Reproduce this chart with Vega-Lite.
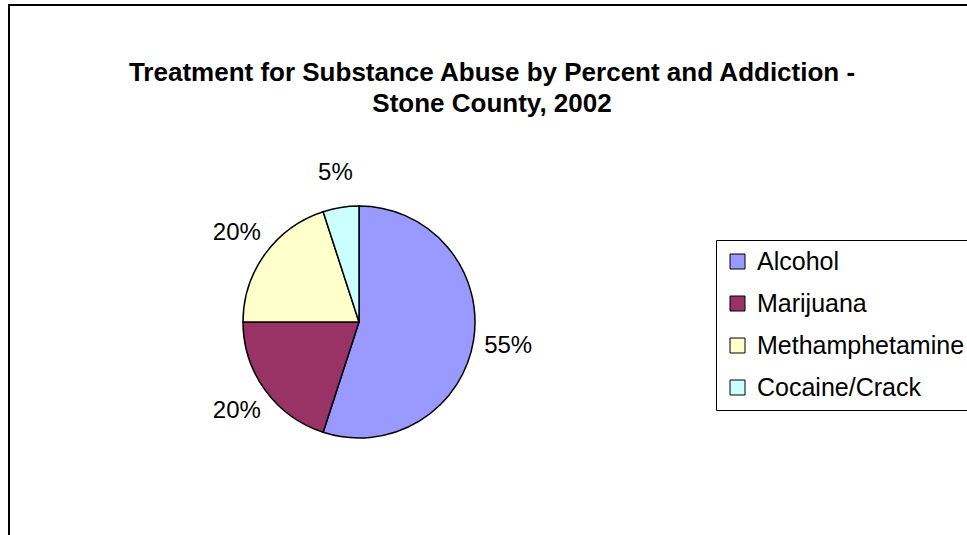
{
  "$schema": "https://vega.github.io/schema/vega-lite/v6.json",
  "autosize": "none",
  "width": 966,
  "height": 540,
  "padding": {"left": 9, "top": 5, "right": -8, "bottom": -10},
  "background": "white",
  "view": {"stroke": "#000", "strokeWidth": 2, "fill": "white"},
  "config": {"view": {"stroke": "#000", "strokeWidth": 2}, "font": "Liberation Sans"},
  "title": {
    "text": ["Treatment for Substance Abuse by Percent and Addiction -", "Stone County, 2002"],
    "fontSize": 26,
    "fontWeight": "bold",
    "font": "Liberation Sans",
    "color": "#000",
    "anchor": "middle",
    "frame": "group",
    "offset": -112,
    "lineHeight": 31
  },
  "data": {
    "values": [
      {"substance": "Alcohol", "percent": 55, "label": "55%", "rank": 1},
      {"substance": "Marijuana", "percent": 20, "label": "20%", "rank": 2},
      {"substance": "Methamphetamine", "percent": 20, "label": "20%", "rank": 3},
      {"substance": "Cocaine/Crack", "percent": 5, "label": "5%", "rank": 4}
    ]
  },
  "encoding": {
    "theta": {"field": "percent", "type": "quantitative", "stack": true},
    "order": {"field": "rank", "type": "quantitative"}
  },
  "layer": [
    {
      "mark": {"type": "arc", "outerRadius": 116, "stroke": "#000", "strokeWidth": 1.5, "x": 350, "y": 317},
      "encoding": {
        "color": {
          "field": "substance",
          "type": "nominal",
          "sort": null,
          "scale": {
            "domain": ["Alcohol", "Marijuana", "Methamphetamine", "Cocaine/Crack"],
            "range": ["#9999FF", "#993366", "#FFFFCC", "#CCFFFF"]
          },
          "legend": {
            "title": null,
            "orient": "none",
            "legendX": 707,
            "legendY": 235,
            "symbolType": "square",
            "symbolSize": 225,
            "symbolStrokeColor": "#000",
            "symbolStrokeWidth": 1,
            "symbolOpacity": 1,
            "labelFontSize": 25,
            "labelFont": "Liberation Sans",
            "labelColor": "#000",
            "labelLimit": 400,
            "strokeColor": "#000",
            "fillColor": "white",
            "padding": 9,
            "rowPadding": 16,
            "labelOffset": 7
          }
        }
      }
    },
    {
      "mark": {"type": "text", "x": 350, "y": 317, "fontSize": 24, "font": "Liberation Sans", "align": "center", "baseline": "middle", "color": "#000"},
      "encoding": {
        "text": {"field": "label", "type": "nominal"},
        "detail": {"field": "substance", "type": "nominal"},
        "radius": {"value": 151}
      }
    }
  ]
}
